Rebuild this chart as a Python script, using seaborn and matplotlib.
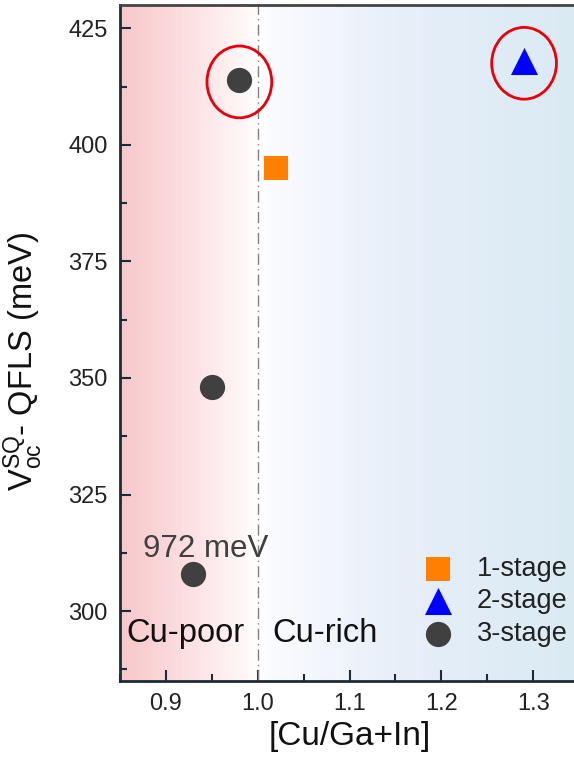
import numpy as np
import pandas as pd
import matplotlib
matplotlib.use("Agg")
import matplotlib.pyplot as plt
from matplotlib.colors import LinearSegmentedColormap
from matplotlib.patches import Ellipse
from matplotlib.ticker import MultipleLocator
import seaborn as sns

# Cu/(Ga+In) ratio and Voc(SQ) - QFLS deficit for each absorber
process = ["1-stage", "2-stage", "3-stage", "3-stage", "3-stage"]
cu_ratio = [1.02, 1.29, 0.98, 0.95, 0.93]
deficit = [395, 418, 414, 348, 308]

# highlighted samples (index into the arrays above)
highlighted = [2, 1]

x_ticks = [0.9, 1.0, 1.1, 1.2, 1.3]
y_ticks = [300, 325, 350, 375, 400, 425]

palette = {"1-stage": "#ff8000", "2-stage": "#0000ff", "3-stage": "#404040"}
markers = {"1-stage": "s", "2-stage": "^", "3-stage": "o"}
sizes = {"1-stage": 290, "2-stage": 380, "3-stage": 330}

df = pd.DataFrame({"process": process, "ratio": cu_ratio, "deficit": deficit})

sns.set_theme(style="ticks")
plt.rcParams["font.family"] = ["Liberation Sans", "DejaVu Sans"]
plt.rcParams["mathtext.fontset"] = "custom"
plt.rcParams["mathtext.rm"] = "Liberation Sans"
plt.rcParams["mathtext.it"] = "Liberation Sans"

fig = plt.figure(figsize=(5.74, 7.58), dpi=100)
ax = fig.add_axes([0.209, 0.1016, 0.8, 0.8918])

xlim = (0.85, 1.35)
ylim = (285, 430)

# composition background: Cu-poor (red) -> stoichiometric (white) -> Cu-rich (blue)
cmap = LinearSegmentedColormap.from_list(
    "cu", [(0.0, "#f8c8cb"), (0.12, "#fbdbdd"), (0.26, "#fff5f6"),
           (0.30, "#ffffff"), (0.33, "#fafbff"), (0.6, "#e8eff9"),
           (1.0, "#d9eaf3")])
grad = np.linspace(0, 1, 512).reshape(1, -1)
ax.imshow(grad, cmap=cmap, aspect="auto", extent=(*xlim, *ylim),
          origin="lower", zorder=0, interpolation="bilinear")

ax.axvline(1.0, color="#808080", lw=1.0, ls=(0, (8, 3, 1, 3)), zorder=1)

for name in ["1-stage", "2-stage", "3-stage"]:
    sub = df[df["process"] == name]
    sns.scatterplot(data=sub, x="ratio", y="deficit", ax=ax,
                    color=palette[name], marker=markers[name],
                    s=sizes[name], linewidth=0, label=name, zorder=3)

for i in highlighted:
    ax.add_patch(Ellipse((cu_ratio[i], deficit[i] - 0.5), 0.0705, 15.4,
                         fill=False, edgecolor="#e8000b", lw=2.0, zorder=4))

ax.text(0.875, 311.5, "972 meV", fontsize=22.5, color="#404040", zorder=5)
ax.text(0.857, 293.3, "Cu-poor", fontsize=23.5, color="#111111", zorder=5)
ax.text(1.016, 293.3, "Cu-rich", fontsize=23.5, color="#111111", zorder=5)

ax.set_xlim(*xlim)
ax.set_ylim(*ylim)
ax.set_xticks(x_ticks)
ax.set_xticklabels([f"{v:.1f}" for v in x_ticks])
ax.set_yticks(y_ticks)
ax.xaxis.set_minor_locator(MultipleLocator(0.05))
ax.yaxis.set_minor_locator(MultipleLocator(12.5))
ax.tick_params(which="major", direction="in", length=8, width=1.5,
               labelsize=17, color="#1e2a38", labelcolor="#222222", pad=9)
ax.tick_params(which="minor", direction="in", length=5, width=1.5,
               color="#1e2a38")
ax.tick_params(top=False, right=False, which="both")

for side in ["left", "bottom", "top"]:
    ax.spines[side].set_color("#1e2a38")
    ax.spines[side].set_linewidth(2.0)
ax.spines["top"].set_color("#444444")

ax.set_xlabel("[Cu/Ga+In]", fontsize=24, color="#111111", labelpad=4)
ax.set_ylabel(r"$\mathregular{V_{oc}^{SQ}}$- QFLS (meV)", fontsize=23.5,
              color="#111111")
ax.yaxis.set_label_coords(-0.163, 0.472)

leg = ax.legend(loc="lower right", bbox_to_anchor=(0.975, 0.05),
                frameon=False, fontsize=19.5, handlelength=1.26,
                handletextpad=0.8, labelspacing=0.25, borderpad=0,
                borderaxespad=0)
for t in leg.get_texts():
    t.set_color("#222222")

fig.savefig("out.png", dpi=100)
